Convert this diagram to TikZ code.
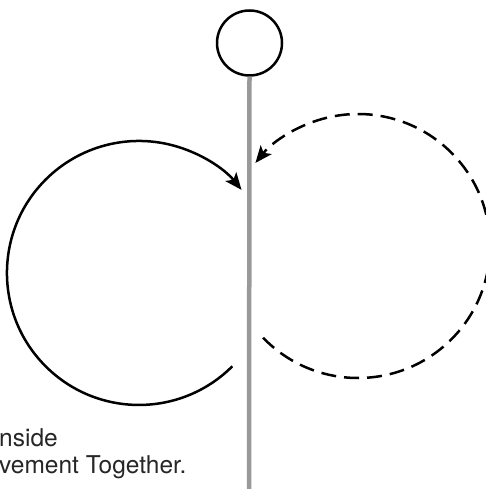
\documentclass[tikz,border=0pt]{standalone}
\usepackage{fontspec}
\setmainfont{TeX Gyre Heros}
\usetikzlibrary{arrows.meta}
\tikzset{
  motion/.style={line width=2.5pt, black, -{Stealth[length=17pt,width=14pt,inset=4pt]}},
  dashmotion/.style={motion, dash pattern=on 15pt off 8pt},
  pole/.style={line width=4.5pt, color=gray!80},
  headstyle/.style={circle, draw, line width=2.5pt, minimum size=65pt, inner sep=0pt},
  caption/.style={anchor=base west, inner sep=0pt, text=black!85, font=\fontsize{24.5}{27}\selectfont}
}
\begin{document}
\begin{tikzpicture}[x=1pt,y=1pt]
  \useasboundingbox (0,0) rectangle (485,489);
  \node[headstyle] (head) at (249.5,446) {};
  \coordinate (base) at (249,0);
  \draw[pole] (head.south) -- (base);
  % left solid loop
  \coordinate (lstart) at (232.3,122.7);
  \draw[motion] (lstart) arc[start angle=-45, end angle=-321, radius=132];
  % right dashed loop
  \coordinate (rstart) at (263.05,151.3);
  \draw[dashmotion] (rstart) arc[start angle=-136, end angle=141, radius=132];
  \node[caption] (t1) at (-1,42) {nside};
  \node[caption] (t2) at (-1,16) {vement Together.};
\end{tikzpicture}
\end{document}
